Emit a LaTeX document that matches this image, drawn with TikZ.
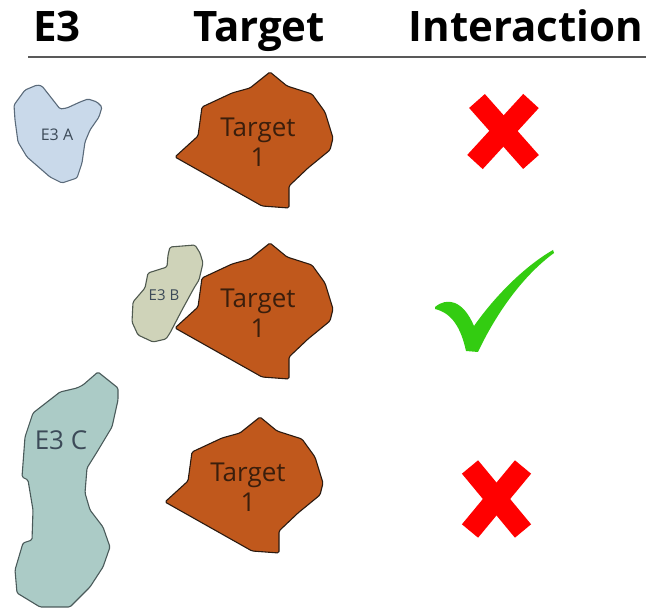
\documentclass[tikz,border=0pt]{standalone}
\usepackage{fontspec}
\setmainfont{Open Sans}
\begin{document}
\begin{tikzpicture}[x=1pt,y=-1pt,
  blob/.style={line width=1.1pt,line join=round,rounded corners=1.5pt},
  tgt/.style={blob,fill=tgtfill,draw=tgtline},
  tgtlabel/.style={align=center,text=tgtext,font=\fontsize{26}{30}\selectfont,inner sep=0pt},
  e3label/.style={text=e3text,inner sep=0pt},
  head/.style={anchor=base,font=\fontsize{42}{46}\selectfont\bfseries,inner sep=0pt},
  xmark/.style={draw=red,line width=21pt,line cap=butt}]
\definecolor{tgtfill}{HTML}{C0581C}
\definecolor{tgtline}{HTML}{2A1A10}
\definecolor{tgtext}{HTML}{3A1E0C}
\definecolor{e3text}{HTML}{3C4A58}
\definecolor{afill}{HTML}{C9D9EA}
\definecolor{aline}{HTML}{5A6A7A}
\definecolor{bfill}{HTML}{CFD3B9}
\definecolor{bline}{HTML}{505A50}
\definecolor{cfill}{HTML}{ABCBC6}
\definecolor{cline}{HTML}{4A5A5A}
\definecolor{okgreen}{HTML}{33CC11}
\useasboundingbox (0,0) rectangle (654,609);
\newcommand{\tgtshape}{(270,72) -- (287,86) -- (312,94) -- (325,112) -- (333,138) -- (330,150) -- (308,168) -- (289,186) -- (289,208) -- (262,206) -- (175,157) -- (198,136) -- (202,107) -- (232,93) -- (250,88) -- cycle}

% column headings and rule
\node[head] (hE) at (57,42) {E3};
\node[head] (hT) at (259,42) {Target};
\node[head] (hI) at (526,42) {Interaction};
\draw[line width=2.5pt,draw=black!65] (28,57) -- (646,57);

% row 1: E3 A
\draw[blob,fill=afill,draw=aline] (14,105) -- (25,90) -- (37,85) -- (42,86) -- (53,100) -- (60,109) -- (67,108) -- (80,102) -- (88,99) -- (97,102) -- (102,107) -- (99,117) -- (90,130) -- (85,142) -- (82,163) -- (77,178) -- (62,183) -- (50,177) -- (27,157) -- (18,142) -- (15,120) -- cycle;
\node[e3label,font=\fontsize{16}{18}\selectfont] (la) at (57,135) {E3 A};
\draw[tgt] \tgtshape;
\node[tgtlabel] (t1) at (258,142) {Target\\1};
\draw[xmark] (477,101) -- (531,162);
\draw[xmark] (531,101) -- (475,162);

% row 2: E3 B against the target
\draw[blob,fill=bfill,draw=bline] (170,247) -- (195,245) -- (200,253) -- (203,263) -- (199,280) -- (194,288) -- (182,310) -- (170,333) -- (166,339) -- (153,342) -- (138,335) -- (132,322) -- (133,302) -- (145,288) -- (148,273) -- (167,267) -- (168,255) -- cycle;
\begin{scope}[shift={(0,171)}]
  \draw[tgt] \tgtshape;
\end{scope}
\node[e3label,font=\fontsize{15}{17}\selectfont] (lb) at (164,295) {E3 B};
\node[tgtlabel] (t2) at (258,313) {Target\\1};
\fill[okgreen] (435,307) .. controls (447,297) and (463,300) .. (474,326)
  .. controls (495,296) and (525,266) .. (553,250) -- (554,253)
  .. controls (520,278) and (494,318) .. (478,352) -- (466,351)
  .. controls (461,328) and (452,313) .. (435,309) -- cycle;

% row 3: E3 C
\draw[blob,fill=cfill,draw=cline] (98,372) -- (118,388) -- (118,400) -- (112,427) -- (97,452) -- (87,468) -- (85,493) -- (90,510) -- (103,527) -- (110,547) -- (103,567) -- (90,587) -- (70,607) -- (40,607) -- (17,593) -- (15,570) -- (23,543) -- (32,540) -- (33,510) -- (28,480) -- (22,477) -- (25,437) -- (33,413) -- (60,392) -- (77,388) -- (83,385) -- cycle;
\node[e3label,font=\fontsize{26}{28}\selectfont] (lc) at (61,440) {E3 C};
\begin{scope}[shift={(-10,345)}]
  \draw[tgt] \tgtshape;
\end{scope}
\node[tgtlabel] (t3) at (248,487) {Target\\1};
\draw[xmark] (470,467) -- (523,531);
\draw[xmark] (523,467) -- (470,531);
\end{tikzpicture}
\end{document}
